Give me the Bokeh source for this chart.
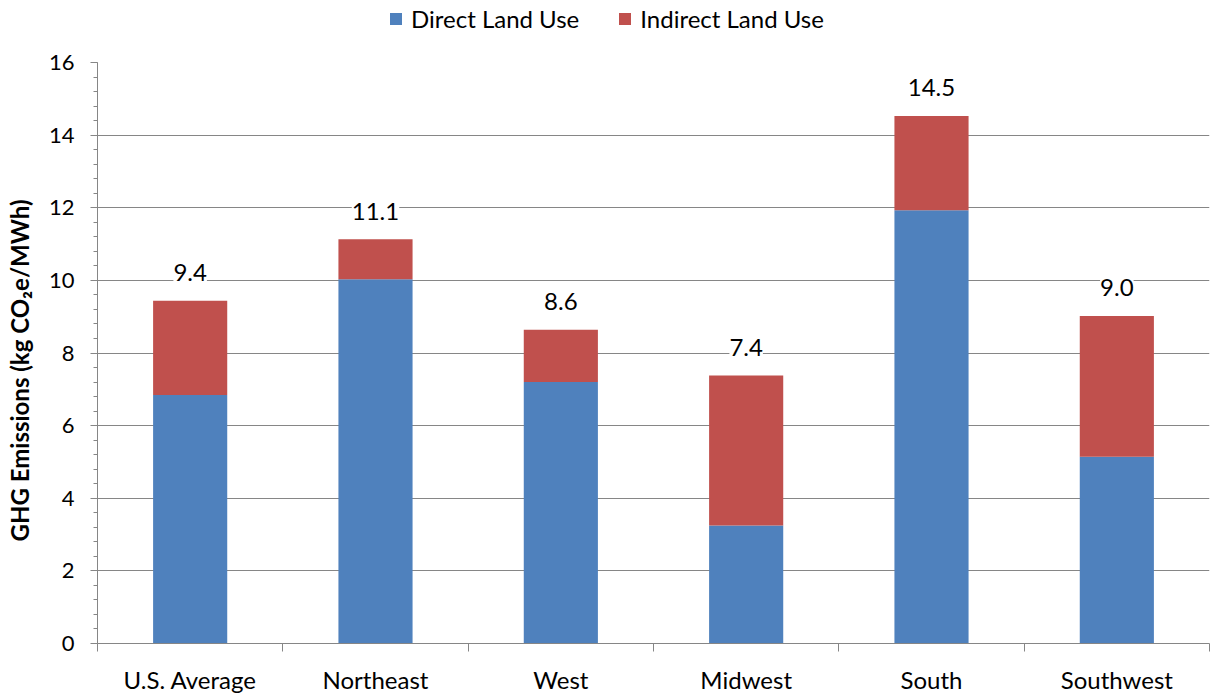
from bokeh.plotting import figure
from bokeh.layouts import column
from bokeh.models import ColumnDataSource, FixedTicker, Range1d, Legend, LegendItem, LabelSet
from bokeh.core.properties import value
from bokeh.embed import file_html
from bokeh.resources import INLINE

categories = ["U.S. Average", "Northeast", "West", "Midwest", "South", "Southwest"]
series = ["Direct Land Use", "Indirect Land Use"]
direct = [6.84, 10.03, 7.20, 3.25, 11.93, 5.14]
indirect = [2.60, 1.10, 1.44, 4.13, 2.60, 3.88]
y_ticks = [0, 2, 4, 6, 8, 10, 12, 14, 16]
y_title = "GHG Emissions (kg CO\u2082e/MWh)"

FONT = "Lato"
BLUE = "#4f81bd"
RED = "#c0504d"
GRAY = "#868686"

xs = [i + 1 for i in range(len(categories))]
total = [d + r for d, r in zip(direct, indirect)]
src = ColumnDataSource(dict(
    x=xs, direct=direct, indirect=indirect, total=total,
    label=[f"{t:.1f}" for t in total],
))

# ---- legend strip (top); its bars lie outside its visible range ----
lf = figure(width=1210, height=42, output_backend="svg", toolbar_location=None,
            x_range=Range1d(100, 101), y_range=Range1d(100, 101),
            min_border_left=97, min_border_right=1, min_border_top=0, min_border_bottom=0)
lf.axis.visible = False
lf.grid.visible = False
lf.outline_line_color = None
lr = lf.vbar_stack(["direct", "indirect"], x="x", width=0.4, source=src,
                   color=[BLUE, RED], line_color=None)
legend = Legend(items=[LegendItem(label=series[0], renderers=[lr[0]]),
                       LegendItem(label=series[1], renderers=[lr[1]])],
                orientation="horizontal", location=(291, 9))
legend.label_text_font = FONT
legend.label_text_font_size = "24px"
legend.label_text_color = "black"
legend.glyph_width = 15
legend.glyph_height = 15
legend.spacing = 38
legend.padding = 0
legend.margin = 0
legend.label_standoff = 8
legend.border_line_color = None
legend.background_fill_alpha = 0
lf.add_layout(legend, "center")

# ---- main chart ----
p = figure(width=1210, height=654, output_backend="svg", toolbar_location=None,
           x_range=Range1d(0.5, len(categories) + 0.5), y_range=Range1d(0, 16),
           min_border_left=97, min_border_right=1, min_border_top=20, min_border_bottom=51)
p.outline_line_color = None
p.background_fill_color = "white"

r = p.vbar_stack(["direct", "indirect"], x="x", width=0.4, source=src,
                 color=[BLUE, RED], line_color=None)

labels = LabelSet(x="x", y="total", text="label", source=src, text_align="center",
                  text_baseline="middle", y_offset=28, text_font=value(FONT),
                  text_font_size="24px", text_color="black",
                  background_fill_color="white", background_fill_alpha=1.0)
p.add_layout(labels)

# x axis
p.xaxis.ticker = FixedTicker(ticks=xs, minor_ticks=[x - 0.5 for x in xs] + [xs[-1] + 0.5])
p.xaxis.major_label_overrides = {x: c for x, c in zip(xs, categories)}
p.xaxis.major_tick_out = 0
p.xaxis.major_tick_in = 0
p.xaxis.minor_tick_out = 8
p.xaxis.minor_tick_in = 0
p.xaxis.minor_tick_line_color = GRAY
p.xaxis.axis_line_color = GRAY
p.xaxis.major_label_text_font = FONT
p.xaxis.major_label_text_font_size = "24px"
p.xaxis.major_label_text_color = "black"
p.xaxis.major_label_standoff = 13

# y axis
p.yaxis.ticker = FixedTicker(ticks=y_ticks, minor_ticks=[round(i * 0.4, 1) for i in range(41)])
p.yaxis.major_tick_out = 7
p.yaxis.major_tick_in = 0
p.yaxis.minor_tick_out = 4
p.yaxis.minor_tick_in = 0
p.yaxis.major_tick_line_color = GRAY
p.yaxis.minor_tick_line_color = GRAY
p.yaxis.axis_line_color = GRAY
p.yaxis.major_label_text_font = FONT
p.yaxis.major_label_text_font_size = "22px"
p.yaxis.major_label_text_color = "black"
p.yaxis.major_label_standoff = 16
p.yaxis.axis_label = y_title + "\u00a0" * 6
p.yaxis.axis_label_text_font = FONT
p.yaxis.axis_label_text_font_size = "24px"
p.yaxis.axis_label_text_font_style = "bold"
p.yaxis.axis_label_text_color = "black"
p.yaxis.axis_label_standoff = 12

p.xgrid.visible = False
p.ygrid.ticker = FixedTicker(ticks=y_ticks)
p.ygrid.grid_line_color = GRAY
p.ygrid.grid_line_width = 1

layout = column(lf, p, spacing=0)
open("out.html", "w").write(file_html(layout, INLINE))
